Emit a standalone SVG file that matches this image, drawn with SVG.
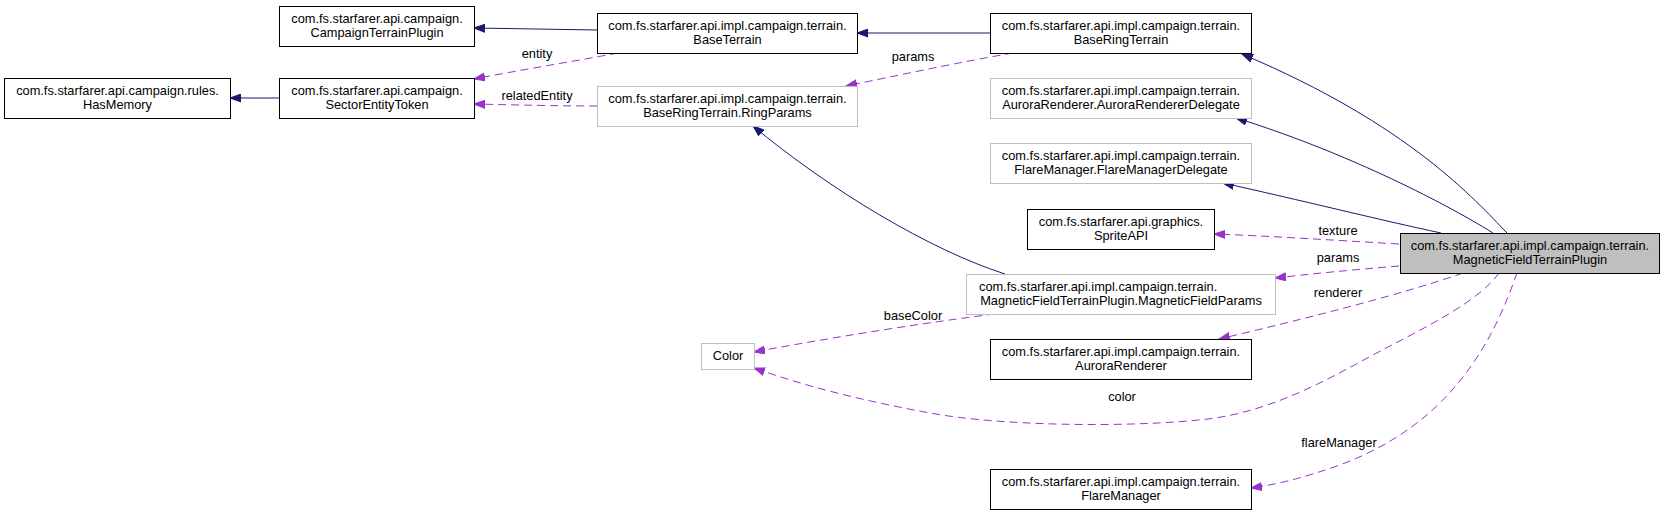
<svg xmlns="http://www.w3.org/2000/svg" width="1665" height="515" viewBox="0 0 1665 515">
<style>
text{font-family:"Liberation Sans",Arial,Helvetica,sans-serif;font-size:12.8px;fill:#000}
.c{text-anchor:middle}
.s{text-anchor:start}
.doc{fill:#fff;stroke:#000;stroke-width:1}
.und{fill:#fff;stroke:#bfbfbf;stroke-width:1}
.cur{fill:#bfbfbf;stroke:#000;stroke-width:1}
.inh{fill:none;stroke:#191970;stroke-width:1;marker-end:url(#an)}
.use{fill:none;stroke:#9a32cd;stroke-width:1;stroke-dasharray:8,5;marker-end:url(#ap)}
</style>
<defs>
<marker id="an" markerUnits="userSpaceOnUse" markerWidth="12" markerHeight="9" refX="11" refY="4.5" orient="auto" viewBox="0 0 12 9"><path d="M0,0.5 L11,4.5 L0,8.5 z" fill="#191970" stroke="#191970"/></marker>
<marker id="ap" markerUnits="userSpaceOnUse" markerWidth="12" markerHeight="9" refX="11" refY="4.5" orient="auto" viewBox="0 0 12 9"><path d="M0,0.5 L11,4.5 L0,8.5 z" fill="#9a32cd" stroke="#9a32cd"/></marker>
</defs>
<rect width="1665" height="515" fill="#fff"/>
<g id="connectors">
<path class="inh" d="M279,98 L230,98"/>
<path class="inh" d="M597,30 L474,28"/>
<path class="inh" d="M990,33 L857,33"/>
<path class="inh" d="M1005,274 C930,250 830,190 753,126"/>
<path class="inh" d="M1507,233 C1475,200 1410,125 1242,54"/>
<path class="inh" d="M1493,233 C1440,200 1340,150 1236,118"/>
<path class="inh" d="M1441,233 C1380,220 1300,200 1223,183"/>
<path class="use" d="M618,53 C570,62 520,70 474,79"/>
<path class="use" d="M597,106 C560,106 520,105 474,104"/>
<path class="use" d="M1013,53 C960,62 900,75 846,86"/>
<path class="use" d="M1399,244 C1330,240 1270,236 1214,234"/>
<path class="use" d="M1399,266 C1350,270 1310,274 1275,278"/>
<path class="use" d="M1463,273 C1400,295 1300,320 1219,339"/>
<path class="use" d="M995,314 C930,322 840,336 754,352"/>
<path class="use" d="M1499,273 C1480,300 1430,325 1388,347 C1340,372 1280,410 1208,419 C1130,428 1000,426 930,413 C870,402 810,388 754,368"/>
<path class="use" d="M1517,273 C1495,335 1455,425 1334,467 C1305,477 1280,484 1251,488"/>
<text class="c" x="537" y="58">entity</text>
<text class="c" x="537" y="100">relatedEntity</text>
<text class="c" x="913" y="61">params</text>
<text class="c" x="1338" y="235">texture</text>
<text class="c" x="1338" y="262">params</text>
<text class="c" x="1338" y="297">renderer</text>
<text class="c" x="913" y="320">baseColor</text>
<text class="c" x="1122" y="401">color</text>
<text class="c" x="1339" y="447">flareManager</text>
</g>
<g id="HasMemory"><rect class="doc" x="4.5" y="78.5" width="226" height="40"/><text class="c" x="117.5" y="95">com.fs.starfarer.api.campaign.rules.</text><text class="c" x="117.5" y="108.5">HasMemory</text></g>
<g id="CampaignTerrainPlugin"><rect class="doc" x="279.5" y="6.5" width="195" height="40"/><text class="c" x="377" y="23">com.fs.starfarer.api.campaign.</text><text class="c" x="377" y="36.5">CampaignTerrainPlugin</text></g>
<g id="SectorEntityToken"><rect class="doc" x="279.5" y="78.5" width="195" height="40"/><text class="c" x="377" y="95">com.fs.starfarer.api.campaign.</text><text class="c" x="377" y="108.5">SectorEntityToken</text></g>
<g id="BaseTerrain"><rect class="doc" x="597.5" y="13.5" width="260" height="40"/><text class="c" x="727.5" y="30">com.fs.starfarer.api.impl.campaign.terrain.</text><text class="c" x="727.5" y="43.5">BaseTerrain</text></g>
<g id="RingParams"><rect class="und" x="597.5" y="86.5" width="260" height="40"/><text class="c" x="727.5" y="103">com.fs.starfarer.api.impl.campaign.terrain.</text><text class="c" x="727.5" y="116.5">BaseRingTerrain.RingParams</text></g>
<g id="BaseRingTerrain"><rect class="doc" x="990.5" y="13.5" width="261" height="40"/><text class="c" x="1121" y="30">com.fs.starfarer.api.impl.campaign.terrain.</text><text class="c" x="1121" y="43.5">BaseRingTerrain</text></g>
<g id="AuroraRendererDelegate"><rect class="und" x="990.5" y="78.5" width="261" height="40"/><text class="c" x="1121" y="95">com.fs.starfarer.api.impl.campaign.terrain.</text><text class="c" x="1121" y="108.5">AuroraRenderer.AuroraRendererDelegate</text></g>
<g id="FlareManagerDelegate"><rect class="und" x="990.5" y="143.5" width="261" height="40"/><text class="c" x="1121" y="160">com.fs.starfarer.api.impl.campaign.terrain.</text><text class="c" x="1121" y="173.5">FlareManager.FlareManagerDelegate</text></g>
<g id="SpriteAPI"><rect class="doc" x="1027.5" y="209.5" width="187" height="40"/><text class="c" x="1121" y="226">com.fs.starfarer.api.graphics.</text><text class="c" x="1121" y="239.5">SpriteAPI</text></g>
<g id="MagneticFieldTerrainPlugin"><rect class="cur" x="1400.5" y="233.5" width="259" height="40"/><text class="c" x="1530" y="250">com.fs.starfarer.api.impl.campaign.terrain.</text><text class="c" x="1530" y="263.5">MagneticFieldTerrainPlugin</text></g>
<g id="MagneticFieldParams"><rect class="und" x="966.5" y="274.5" width="309" height="40"/><text class="s" x="979" y="291">com.fs.starfarer.api.impl.campaign.terrain.</text><text class="c" x="1121" y="304.5">MagneticFieldTerrainPlugin.MagneticFieldParams</text></g>
<g id="Color"><rect class="und" x="701.5" y="343.5" width="53" height="26"/><text class="c" x="728" y="360">Color</text></g>
<g id="AuroraRenderer"><rect class="doc" x="990.5" y="339.5" width="261" height="40"/><text class="c" x="1121" y="356">com.fs.starfarer.api.impl.campaign.terrain.</text><text class="c" x="1121" y="369.5">AuroraRenderer</text></g>
<g id="FlareManager"><rect class="doc" x="990.5" y="469.5" width="261" height="40"/><text class="c" x="1121" y="486">com.fs.starfarer.api.impl.campaign.terrain.</text><text class="c" x="1121" y="499.5">FlareManager</text></g>
</svg>
